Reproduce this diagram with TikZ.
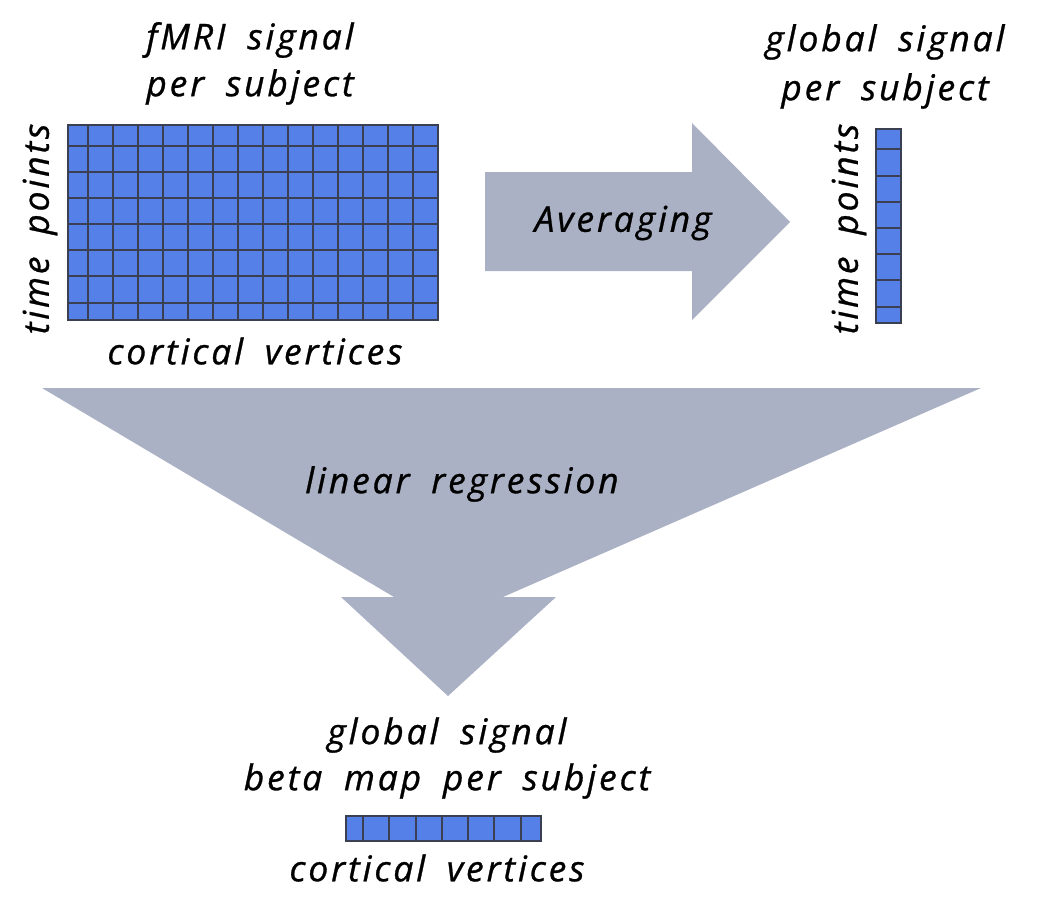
\documentclass[tikz,border=0pt]{standalone}
\usepackage{fontspec}
\newfontfamily\hand{Open Sans}[LetterSpace=8,WordSpace=1.8,FakeBold=0.8]
\definecolor{cellblue}{RGB}{85,128,232}
\definecolor{gridline}{RGB}{58,64,82}
\definecolor{arrowgray}{RGB}{170,177,196}
\begin{document}
\begin{tikzpicture}[x=1pt,y=-1pt,
  lbl/.style={font=\hand\itshape\fontsize{35.5}{40}\selectfont, inner sep=0pt, text=black},
  thin grid/.style={draw=gridline, line width=1.2pt},
  frame/.style={draw=gridline, line width=2.2pt},
  bigarrow/.style={fill=arrowgray}]
\useasboundingbox (0,0) rectangle (1057,923);
% arrows
\fill[bigarrow] (485,172) -- (692,172) -- (692,123) -- (790,222) -- (692,320) -- (692,271) -- (485,271) -- cycle;
\fill[bigarrow] (42,388) -- (981,388) -- (503,597) -- (556,597) -- (448,696) -- (341,597) -- (394,597) -- cycle;
% main grid
\fill[cellblue] (68,125) rectangle (438,320);
\foreach \x in {88,113,138,163,188,213,238,288,313,338,363,388,413}
  \draw[thin grid] (\x,125) -- (\x,320);
\draw[frame] (263,125) -- (263,320);
\foreach \y in {146,172,198,224,250,276,303}
  \draw[thin grid] (68,\y) -- (438,\y);
\draw[frame] (68,125) rectangle (438,320);
% column
\fill[cellblue] (876,129) rectangle (901,323);
\foreach \y in {149,176,202,228,254,280,307}
  \draw[frame] (876,\y) -- (901,\y);
\draw[frame] (876,129) rectangle (901,323);
% row
\fill[cellblue] (346,816) rectangle (541,841);
\foreach \x in {363,389,416,442,468,494,521}
  \draw[frame] (\x,816) -- (\x,841);
\draw[frame] (346,816) rectangle (541,841);
% texts
\node[lbl] (fmri1) at (250,40) {fMRI signal};
\node[lbl] (fmri2) at (250,87) {per subject};
\node[lbl] (gs1) at (885,42) {global signal};
\node[lbl] (gs2) at (885,91) {per subject};
\node[lbl,rotate=90] (tp1) at (40,229) {time points};
\node[lbl,rotate=90] (tp2) at (849,229) {time points};
\node[lbl] (cv1) at (255,351) {cortical vertices};
\node[lbl] (avg) at (623,223) {Averaging};
\node[lbl] (lr) at (462,484) {linear regression};
\node[lbl] (b1) at (447,735) {global signal};
\node[lbl] (b2) at (447,781) {beta map per subject};
\node[lbl] (cv2) at (437,868) {cortical vertices};
\end{tikzpicture}
\end{document}
